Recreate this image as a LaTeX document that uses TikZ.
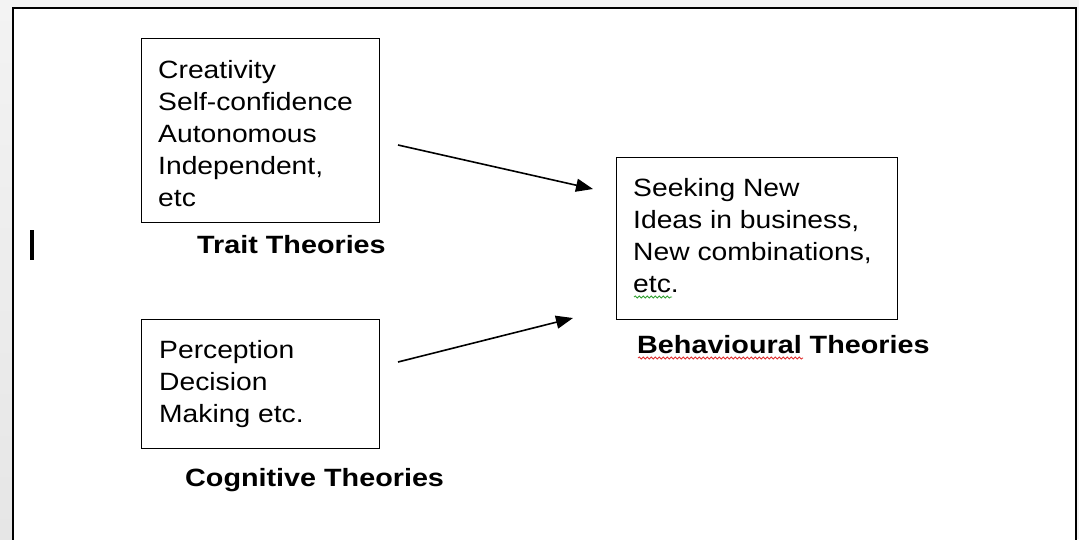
\documentclass[tikz,border=0pt]{standalone}
\usepackage{fontspec}
\setmainfont{Liberation Sans}[FakeStretch=1.13, BoldFeatures={FakeStretch=1.15}]
\usetikzlibrary{arrows.meta,decorations.pathmorphing}
\definecolor{pagebg}{HTML}{F3F3F3}
\definecolor{stripbg}{HTML}{E6E6E6}
\definecolor{spellred}{HTML}{E03030}
\definecolor{spellgreen}{HTML}{30A030}
\begin{document}
\begin{tikzpicture}[x=1pt,y=-1pt,
  box/.style={draw=black, line width=1.4pt, inner sep=0pt, anchor=north west},
  boxtext/.style={anchor=base west, inner sep=0pt, font=\fontsize{25}{32}\selectfont},
  theolabel/.style={anchor=base west, inner sep=0pt, font=\fontsize{25}{30}\selectfont\bfseries},
  conn/.style={-{Triangle[length=17pt,width=13pt]}, line width=1.6pt},
  squiggle/.style={decorate, decoration={snake, amplitude=1.1pt, segment length=4pt}, line width=0.8pt}]
\useasboundingbox (0,0) rectangle (1079,539);
% page background
\fill[pagebg] (0,0) rectangle (1079,539);
\shade[top color=pagebg, bottom color=stripbg] (0,0) rectangle (13,539);
% frame
\fill[white] (13,8) rectangle (1076,545);
\draw[line width=2pt] (13,545) -- (13,8) -- (1076,8) -- (1076,545);
% cursor
\fill[black] (29.5,230) rectangle (33.5,260);

% boxes
\node[box, minimum width=238pt, minimum height=184pt] (trait) at (141,38) {};
\node[box, minimum width=238pt, minimum height=129pt] (cog) at (141,319) {};
\node[box, minimum width=281pt, minimum height=162pt] (behav) at (616,157) {};

% box texts
\node[boxtext] (traittext) at (158,78) {\begin{tabular}[t]{@{}l@{}}Creativity\\Self-confidence\\Autonomous\\Independent,\\etc\end{tabular}};
\node[boxtext] (cogtext) at (159,358) {\begin{tabular}[t]{@{}l@{}}Perception\\Decision\\Making etc.\end{tabular}};
\node[boxtext] (behavtext) at (633,196) {\begin{tabular}[t]{@{}l@{}}Seeking New\\Ideas in business,\\New combinations,\\etc.\end{tabular}};

% labels
\node[theolabel] (traitlab) at (197,253) {Trait Theories};
\node[theolabel] (coglab) at (185,486) {Cognitive Theories};
\node[theolabel] (behavlab) at (637,353) {Behavioural Theories};

% spell-check marks
\draw[squiggle, spellred] (638,358) -- (803,358);
\draw[squiggle, spellgreen] (634,297) -- (672,297);

% connectors
\coordinate (t1) at (398,145);
\coordinate (t2) at (593,189);
\coordinate (c1) at (398,362);
\coordinate (c2) at (573,318);
\draw[conn] (t1) -- (t2);
\draw[conn] (c1) -- (c2);
\end{tikzpicture}
\end{document}
